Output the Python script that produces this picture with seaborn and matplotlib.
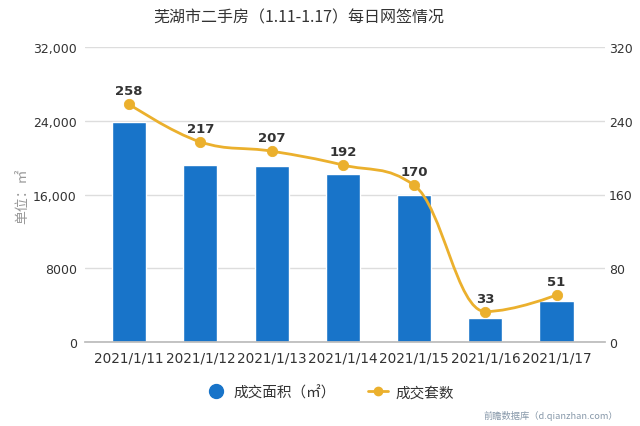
import matplotlib
matplotlib.use("Agg")
import matplotlib.pyplot as plt
import seaborn as sns
import pandas as pd
from matplotlib.path import Path
from matplotlib.patches import PathPatch
from matplotlib.lines import Line2D
from matplotlib.ticker import FuncFormatter

dates = ["2021/1/11", "2021/1/12", "2021/1/13", "2021/1/14", "2021/1/15", "2021/1/16", "2021/1/17"]
area = [23900, 19200, 19050, 18250, 16000, 2600, 4500]
units = [258, 217, 207, 192, 170, 33, 51]
left_ticks = [0, 8000, 16000, 24000, 32000]
right_ticks = [0, 80, 160, 240, 320]

BLUE = "#1874C9"
GOLD = "#EBB02D"
TXT = "#333333"

sns.set_theme(style="white")
plt.rcParams["font.family"] = ["Noto Sans CJK SC", "DejaVu Sans"]

fig = plt.figure(figsize=(6.4, 4.27), dpi=100)
ax = fig.add_axes([85/640, 1-343/427, 520/640, 295/427])

df = pd.DataFrame({"date": dates, "area": area, "units": units})
sns.barplot(data=df, x="date", y="area", color=BLUE, width=0.48, saturation=1, ax=ax, zorder=2)

ax.set_ylim(0, 32000)
ax.set_xlim(-0.62, 6.68)
ax.set_yticks(left_ticks)
ax.yaxis.set_major_formatter(FuncFormatter(lambda v, p: f"{int(v):,}" if v >= 10000 else f"{int(v)}"))
ax.grid(axis="y", color="#DDDDDD", lw=1, zorder=0)
for s in ["top", "right", "left"]:
    ax.spines[s].set_visible(False)
ax.spines["bottom"].set_color("#BBBBBB")
ax.set_xlabel("")
ax.tick_params(axis="x", length=4, color="#BBBBBB", pad=2, labelsize=9.8, labelcolor=TXT)
ax.tick_params(axis="y", length=0, pad=6, labelsize=9, labelcolor=TXT)
for lab in ax.get_xticklabels() + ax.get_yticklabels():
    lab.set_fontfamily("DejaVu Sans")
ax.set_ylabel("")
fig.text(22/640, 1-196/427, "单位：㎡", rotation=90, ha="center", va="center", color="#999999", fontsize=10)

ax2 = ax.twinx()
ax2.set_ylim(0, 320)
ax2.set_yticks(right_ticks)
ax2.tick_params(axis="y", length=0, pad=3, labelsize=9, labelcolor=TXT)
for lab in ax2.get_yticklabels():
    lab.set_fontfamily("DejaVu Sans")
for s in ax2.spines.values():
    s.set_visible(False)

# Highcharts-style spline via Bezier control points
xs = list(range(len(units)))
ys = units
sm, den = 1.5, 2.5
lc, rc = [], []
n = len(xs)
for i in range(n):
    px, py = xs[i], ys[i]
    if 0 < i < n - 1:
        lx, ly = xs[i-1], ys[i-1]
        nx, ny = xs[i+1], ys[i+1]
        lcx = (sm*px + lx)/den; lcy = (sm*py + ly)/den
        rcx = (sm*px + nx)/den; rcy = (sm*py + ny)/den
        corr = (rcy - lcy)*(rcx - px)/(rcx - lcx) + py - rcy
        lcy += corr; rcy += corr
        if lcy > ly and lcy > py:
            lcy = max(ly, py); rcy = 2*py - lcy
        elif lcy < ly and lcy < py:
            lcy = min(ly, py); rcy = 2*py - lcy
        if rcy > ny and rcy > py:
            rcy = max(ny, py); lcy = 2*py - rcy
        elif rcy < ny and rcy < py:
            rcy = min(ny, py); lcy = 2*py - rcy
        lc.append((lcx, lcy)); rc.append((rcx, rcy))
    else:
        lc.append((px, py)); rc.append((px, py))
verts = [(xs[0], ys[0])]
codes = [Path.MOVETO]
for i in range(1, n):
    verts += [rc[i-1], lc[i], (xs[i], ys[i])]
    codes += [Path.CURVE4]*3
ax2.add_patch(PathPatch(Path(verts, codes), fill=False, edgecolor=GOLD, lw=2, zorder=3))
sns.scatterplot(x=xs, y=ys, color=GOLD, s=55, edgecolor=GOLD, ax=ax2, zorder=4, legend=False)
for x, y in zip(xs, ys):
    ax2.annotate(str(y), (x, y), xytext=(0, 5), textcoords="offset points", ha="center", va="bottom",
                 fontsize=9.5, fontweight="bold", color=TXT, family="DejaVu Sans")

fig.text(0.467, 0.958, "芜湖市二手房（1.11-1.17）每日网签情况", ha="center", va="center", fontsize=11.5, color=TXT)

handles = [
    Line2D([], [], marker="o", color=BLUE, linestyle="none", markersize=10),
    Line2D([], [], marker="o", color=GOLD, lw=2, markersize=6),
]
fig.legend(handles, ["成交面积（㎡）", "成交套数"], loc="center", bbox_to_anchor=(0.515, 0.079), ncol=2,
           frameon=False, fontsize=10.5, handlelength=1.4, columnspacing=2.2, handletextpad=0.5,
           labelcolor=TXT)

fig.text(0.966, 0.026, "前瞻数据库（d.qianzhan.com）", ha="right", va="center", fontsize=6.7, color="#8899AA")

fig.savefig("out.png", dpi=100)
